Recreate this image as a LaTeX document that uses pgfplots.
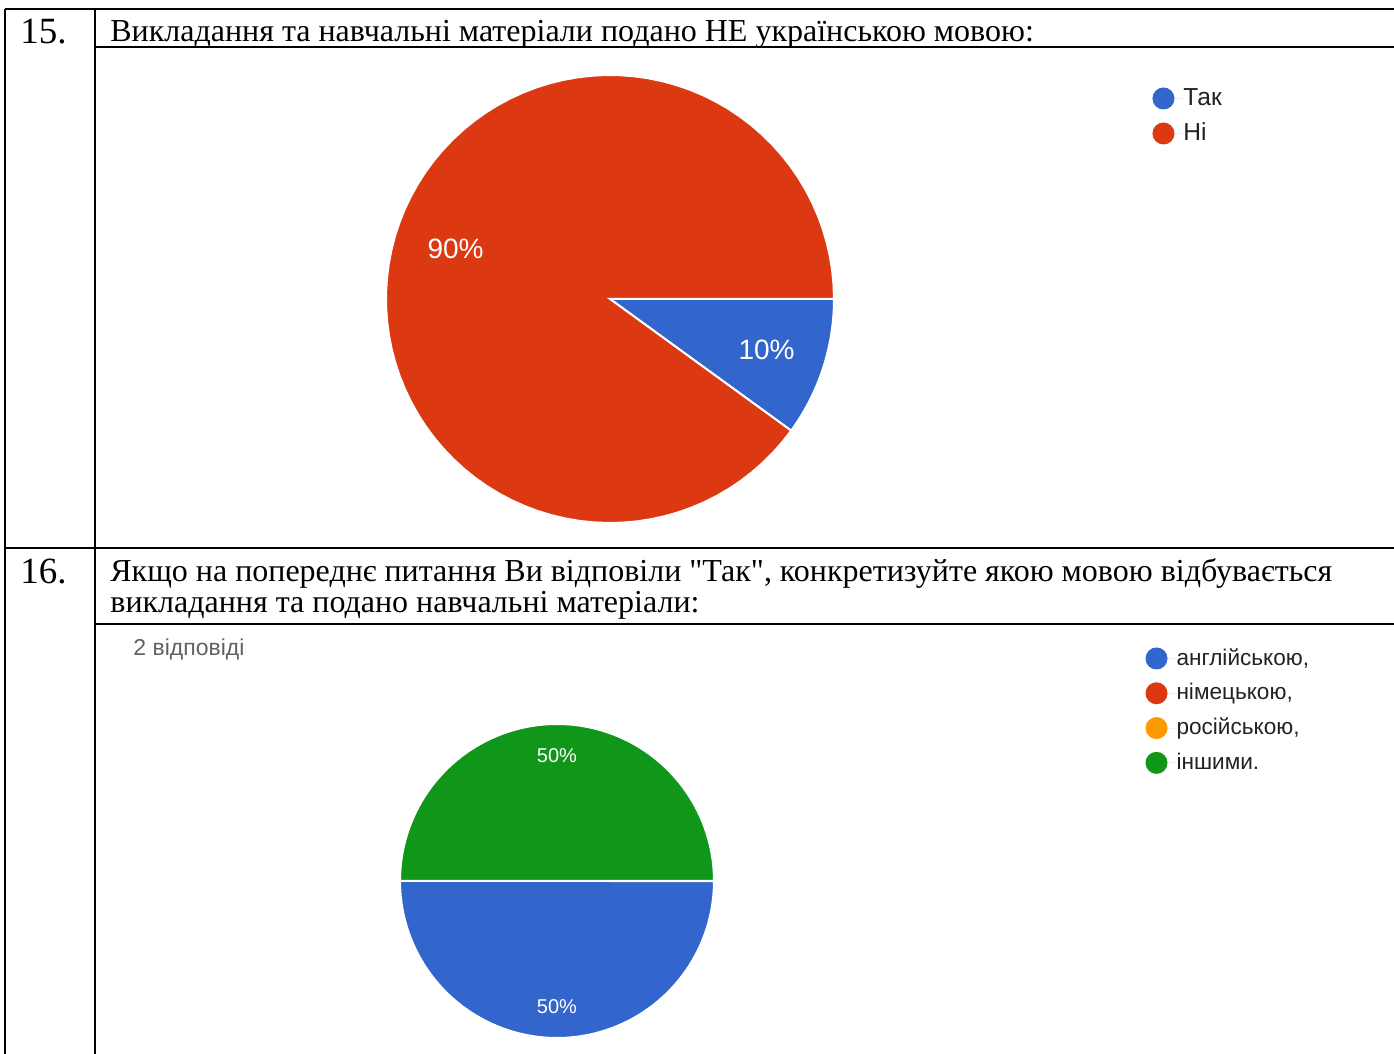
\documentclass[border=0pt]{standalone}
\usepackage{pgfplots}
\pgfplotsset{compat=1.18}
\usepgfplotslibrary{polar}
\usepackage{fontspec}
\setmainfont{Liberation Serif}[Ligatures=TeXOff]
\newfontfamily\gsans{Liberation Sans}
\definecolor{gblue}{HTML}{3366CC}
\definecolor{gred}{HTML}{DC3912}
\definecolor{gorange}{HTML}{FF9900}
\definecolor{ggreen}{HTML}{109618}
\definecolor{gtext}{HTML}{222222}
\definecolor{ggray}{HTML}{616161}
% data (percent)
\def\qAyes{10}
\def\qAno{90}
\def\qBen{50}
\def\qBde{0}
\def\qBru{0}
\def\qBot{50}
\pgfplotsset{
  pie/.style={hide axis, scale only axis, clip=false, ymin=0, ymax=1,
    anchor=origin},
  slice/.style={draw=white, line width=1pt, samples=90},
  pieleg/.style={legend cell align=left,
    legend image code/.code={\fill[##1, draw=none] (5.5pt,0pt) circle (5.5pt); \path[draw=none] (0pt,0pt) -- (15.5pt,0pt);},
    legend style={draw=none, fill=none, inner sep=0pt, anchor=north west,
      text=gtext, nodes={inner sep=0pt}}},
}
\begin{document}
\begin{tikzpicture}[x=0.5pt,y=0.5pt]
\useasboundingbox (0,0) rectangle (1394,1054);
\coordinate (c1) at (610,755);
\coordinate (c2) at (557,173);
% table rules
\begin{scope}[line width=1pt]
\draw (5,1045) -- (1394,1045);
\draw (95,1007) -- (1394,1007);
\draw (5,506) -- (1394,506);
\draw (95,430) -- (1394,430);
\draw (5,1045) -- (5,0);
\draw (95,1045) -- (95,0);
\end{scope}
% row texts
\node[anchor=base west, inner sep=0pt, font=\fontsize{18.5}{20}\selectfont] at (20,1010) {15.};
\node[anchor=base west, inner sep=0pt, font=\fontsize{16}{18}\selectfont] at (110,1012.5) {Викладання та навчальні матеріали подано НЕ українською мовою:};
\node[anchor=base west, inner sep=0pt, font=\fontsize{18.5}{20}\selectfont] at (20,470) {16.};
\node[anchor=base west, inner sep=0pt, font=\fontsize{16}{18}\selectfont] at (110,472.5) {Якщо на попереднє питання Ви відповіли "Так", конкретизуйте якою мовою відбувається};
\node[anchor=base west, inner sep=0pt, font=\fontsize{16}{18}\selectfont] at (110,441) {викладання та подано навчальні матеріали:};
\node[anchor=west, inner sep=0pt, text=ggray, font=\gsans\fontsize{11.5}{13}\selectfont] at (133,405) {2 відповіді};

% pie 1
\begin{polaraxis}[pie, pieleg, width=224pt, height=224pt, at={(c1)},
  legend style={at={(1.71,0.973)}, row sep=6.5pt, font=\gsans\fontsize{12.3}{14}\selectfont}]
\addlegendimage{fill=gblue}
\addlegendimage{fill=gred}
\addplot[forget plot, slice, fill=gblue, domain={-3.6*\qAyes}:0] {1} -- (axis cs:0,0) -- cycle;
\addplot[forget plot, slice, fill=gred, domain={-360}:{-3.6*\qAyes}] {1} -- (axis cs:0,0) -- cycle;
\node[text=white, font=\gsans\fontsize{14}{16}\selectfont] at (axis cs:162,0.725) {90\%};
\node[text=white, font=\gsans\fontsize{14}{16}\selectfont] at (axis cs:-18,0.735) {10\%};
\legend{Так, Ні}
\end{polaraxis}

% pie 2
\begin{polaraxis}[pie, pieleg, width=157pt, height=157pt, at={(c2)},
  legend style={at={(2.373,1.245)}, row sep=6.4pt, font=\gsans\fontsize{11.3}{13}\selectfont}]
\addlegendimage{fill=gblue}
\addlegendimage{fill=gred}
\addlegendimage{fill=gorange}
\addlegendimage{fill=ggreen}
\addplot[forget plot, slice, fill=gblue, domain={-3.6*\qBen}:0] {1} -- (axis cs:0,0) -- cycle;
\addplot[forget plot, slice, fill=ggreen, domain={-360}:{-3.6*(\qBen+\qBde+\qBru)}] {1} -- (axis cs:0,0) -- cycle;
\node[text=white, font=\gsans\fontsize{10}{12}\selectfont] at (axis cs:90,0.8) {50\%};
\node[text=white, font=\gsans\fontsize{10}{12}\selectfont] at (axis cs:-90,0.8) {50\%};
\legend{англійською\rlap{,}, німецькою\rlap{,}, російською\rlap{,}, іншими.}
\end{polaraxis}
\end{tikzpicture}
\end{document}
